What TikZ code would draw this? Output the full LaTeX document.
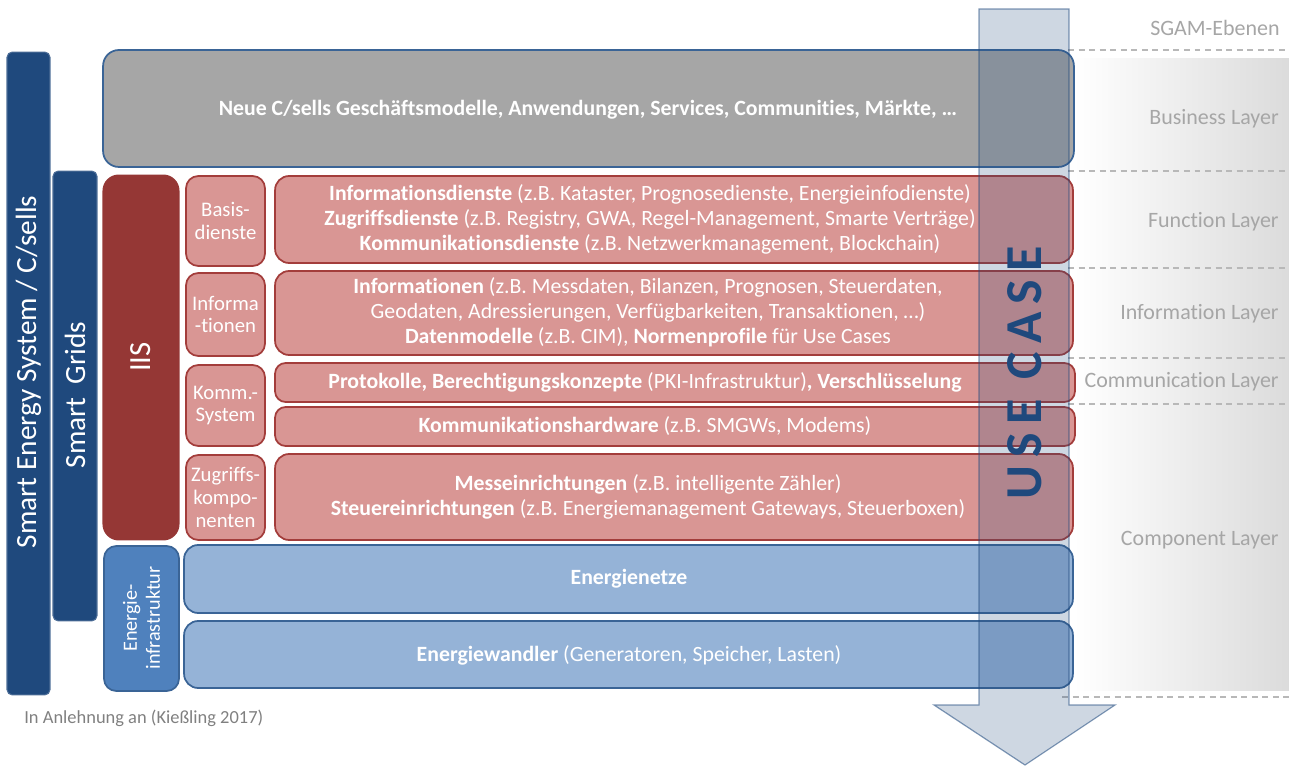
\documentclass[tikz,border=0pt]{standalone}
\usepackage{fontspec}
\setmainfont{Carlito}[Ligatures=NoCommon]
\usepackage{xcolor}
\usetikzlibrary{arrows.meta}

\definecolor{segblue}{HTML}{1F497D}
\definecolor{bizgray}{HTML}{A6A6A6}
\definecolor{boxline}{HTML}{3A6496}
\definecolor{iisred}{HTML}{953735}
\definecolor{iispink}{HTML}{D99694}
\definecolor{iisline}{HTML}{A33D3B}
\definecolor{infrablue}{HTML}{4F81BD}
\definecolor{gridblue}{HTML}{95B3D7}
\definecolor{layergray}{HTML}{A6A6A6}

\begin{document}
\begin{tikzpicture}[
x=0.02cm,y=-0.02cm,
every node/.style={font=\fontsize{12.4}{14.2}\selectfont,text=white,inner sep=0pt},
bar/.style={rounded corners=3pt,fill=segblue,draw=segblue!80!white,line width=0.6pt},
biz/.style={rounded corners=9pt,fill=bizgray,draw=boxline,line width=1pt},
iis/.style={rounded corners=9pt,fill=iisred,draw=iisred,line width=0.6pt},
small/.style={rounded corners=7pt,fill=iispink,draw=iisline,line width=1pt,
  minimum width=1.58cm,align=center,font=\fontsize{11.8}{13}\selectfont},
redbox/.style={rounded corners=8pt,fill=iispink,draw=iisline,line width=1pt},
infra/.style={rounded corners=7pt,fill=infrablue,draw=boxline,line width=1pt},
gridbox/.style={rounded corners=8pt,fill=gridblue,draw=boxline,line width=1pt},
boxtext/.style={align=center},
layer/.style={anchor=east,text=layergray,font=\fontsize{12.5}{14}\selectfont},
sep/.style={draw=black!28,line width=0.8pt,dash pattern=on 3.4pt off 2.6pt}
]
\useasboundingbox (0,0) rectangle (1289,766);

% SGAM layer band
\shade[left color=white,right color=black!14] (1074,59) rectangle (1289,691);
\draw[sep] (1068,50) -- (1289,50);
\draw[sep] (1068,171) -- (1289,171);
\draw[sep] (1068,268) -- (1289,268);
\draw[sep] (1068,358) -- (1289,358);
\draw[sep] (1068,404) -- (1289,404);
\draw[sep] (1062,697) -- (1289,697);

\node[layer] (sgam) at (1280,28) {SGAM-Ebenen};
\node[layer] (business) at (1279,119) {Business Layer};
\node[layer] (function) at (1279,222) {Function Layer};
\node[layer] (information) at (1279,314) {Information Layer};
\node[layer] (communication) at (1279,382) {Communication Layer};
\node[layer] (component) at (1279,540) {Component Layer};

% Side bars
\node[bar,minimum width=0.86cm,minimum height=12.86cm] (ses) at (28.5,373.5) {};
\node[rotate=90,font=\fontsize{16.7}{18}\selectfont] (sestext) at (28.5,372) {Smart Energy System / C/sells};
\node[bar,minimum width=0.88cm,minimum height=9cm] (sg) at (75,396) {};
\node[rotate=90,font=\fontsize{16.7}{18}\selectfont] (sgtext) at (75,395) {Smart\ \ Grids};

% Business
\node[biz,minimum width=19.42cm,minimum height=2.34cm] (bizbox) at (588.5,108.5) {};
\node[boxtext] (biztext) at (588,110) {\textbf{Neue C/sells Geschäftsmodelle, Anwendungen, Services, Communities, Märkte, …}};

% IIS
\node[iis,minimum width=1.52cm,minimum height=7.3cm] (iis) at (141,357.5) {};
\node[rotate=90,font=\fontsize{17.5}{18}\selectfont] (iistext) at (141,357) {IIS};

\node[small,minimum height=1.8cm] (basis) at (225.5,221) {Basis-\\dienste};
\node[small,minimum height=1.66cm] (infsmall) at (225.5,314.5) {Informa\\-tionen};
\node[small,minimum height=1.62cm] (komm) at (225.5,405.5) {Komm.-\\System};
\node[small,minimum height=1.7cm] (zugriff) at (225.5,497.5) {Zugriffs-\\kompo-\\nenten};

\node[redbox,minimum width=15.96cm,minimum height=1.74cm] (fnbox) at (674,219.5) {};
\node[boxtext] (fntext) at (650,219) {\textbf{Informationsdienste} (z.B. Kataster, Prognosedienste, Energieinfodienste)\\
\textbf{Zugriffsdienste} (z.B. Registry, GWA, Regel-Management, Smarte Verträge)\\
\textbf{Kommunikationsdienste} (z.B. Netzwerkmanagement, Blockchain)};

\node[redbox,minimum width=15.96cm,minimum height=1.68cm] (infobox) at (674,313) {};
\node[boxtext] (infotext) at (648,312) {\textbf{Informationen} (z.B. Messdaten, Bilanzen, Prognosen, Steuerdaten,\\
Geodaten, Adressierungen, Verfügbarkeiten, Transaktionen, …)\\
\textbf{Datenmodelle} (z.B. CIM), \textbf{Normenprofile} für Use Cases};

\node[redbox,rounded corners=6pt,minimum width=16cm,minimum height=0.78cm] (protbox) at (675,382.5) {};
\node[boxtext] (prottext) at (645,382) {\textbf{Protokolle, Berechtigungskonzepte} (PKI-Infrastruktur)\textbf{, Verschlüsselung}};

\node[redbox,rounded corners=6pt,minimum width=16cm,minimum height=0.78cm] (hwbox) at (675,426.5) {};
\node[boxtext] (hwtext) at (645,426) {\textbf{Kommunikationshardware} (z.B. SMGWs, Modems)};

\node[redbox,minimum width=15.96cm,minimum height=1.72cm] (messbox) at (674,497) {};
\node[boxtext] (messtext) at (648,497) {\textbf{Messeinrichtungen} (z.B. intelligente Zähler)\\
\textbf{Steuereinrichtungen} (z.B. Energiemanagement Gateways, Steuerboxen)};

% Energy infrastructure
\node[infra,minimum width=1.5cm,minimum height=2.9cm] (infra) at (141.5,618.5) {};
\node[rotate=90,align=center,font=\fontsize{11.5}{13}\selectfont] (infratext) at (141.5,618) {Energie-\\infrastruktur};

\node[gridbox,minimum width=17.78cm,minimum height=1.36cm] (netz) at (628.5,579) {};
\node[boxtext] (netztext) at (629,579) {\textbf{Energienetze}};
\node[gridbox,minimum width=17.78cm,minimum height=1.34cm] (wandler) at (628.5,654.5) {};
\node[boxtext] (wandlertext) at (629,655) {\textbf{Energiewandler} (Generatoren, Speicher, Lasten)};

% Use case arrow
\draw[fill=segblue,fill opacity=0.22,draw=segblue,draw opacity=0.55,line width=0.7pt]
(979,9) -- (1069,9) -- (1069,705) -- (1115,705) -- (1025,765) -- (934,705) -- (979,705) -- cycle;
\node[rotate=90,text=segblue,font=\fontsize{29.5}{30}\selectfont\bfseries\addfontfeature{LetterSpace=16}] (usecase) at (1025,373) {USE CASE};

\node[anchor=west,text=black!50,font=\fontsize{10.5}{12}\selectfont] (source) at (24,718) {In Anlehnung an (Kießling 2017)};

\end{tikzpicture}
\end{document}
